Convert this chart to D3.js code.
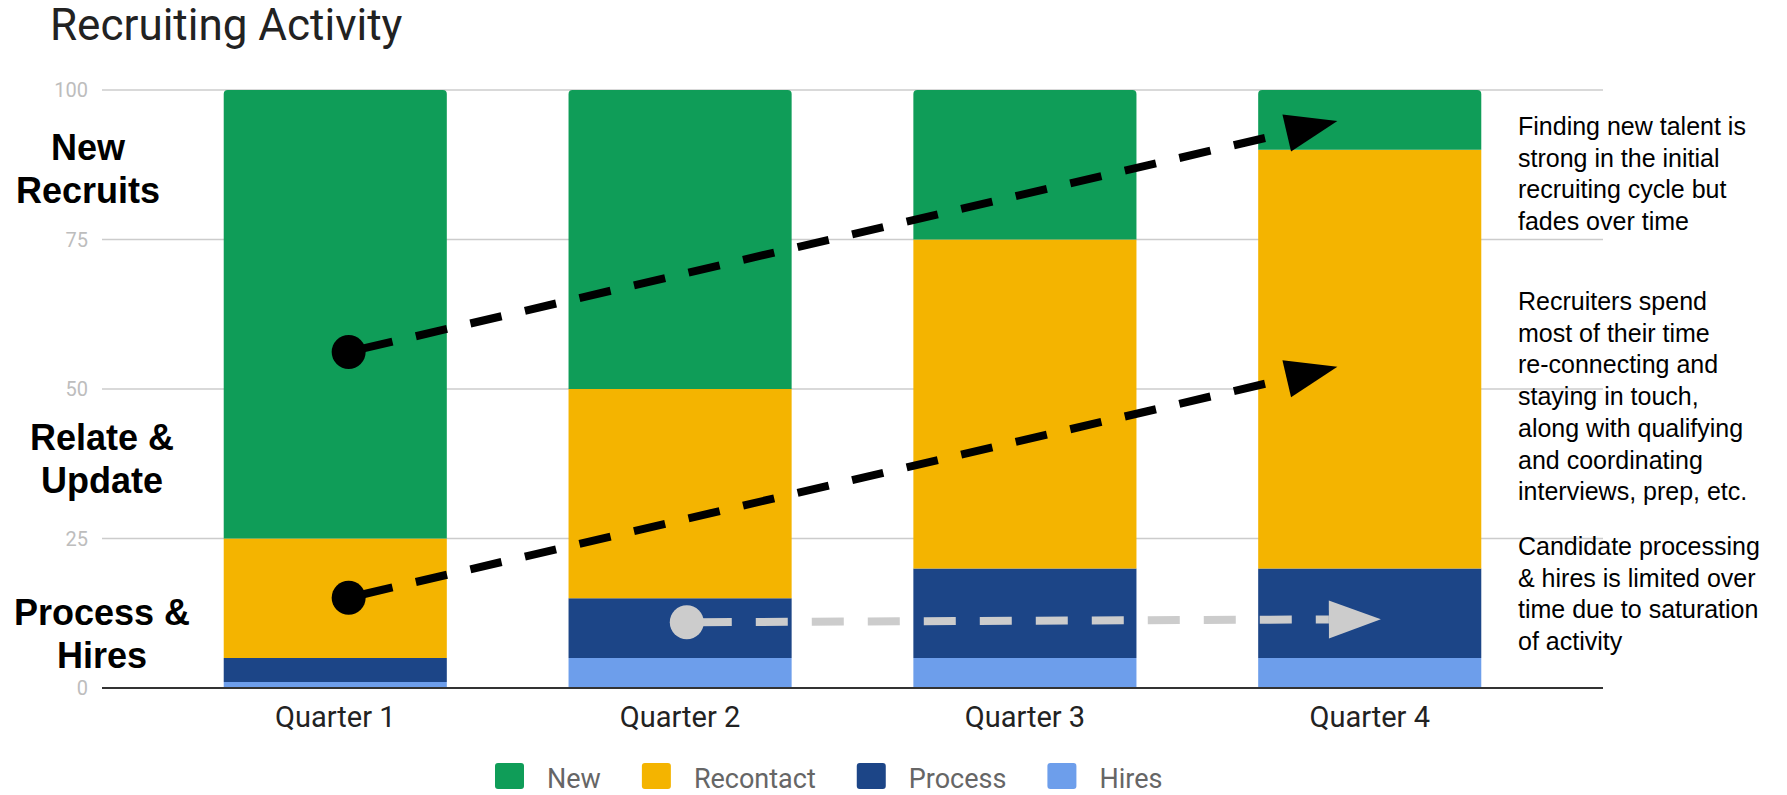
<!DOCTYPE html>
<meta charset="utf-8">
<head>
<script src="https://d3js.org/d3.v7.min.js"></script>
</head>
<style>
  body { margin: 0; background: #fff; }
  text { font-family: Roboto, "Liberation Sans", Arial, sans-serif; }
  .note { font-family: "Liberation Sans", Arial, sans-serif; font-size: 25px; fill: #000; }
  .side { font-family: "Liberation Sans", Arial, sans-serif; font-size: 36px; font-weight: bold; fill: #000; }
</style>
<body></body>
<script>
// chart data
var quarters = ["Quarter 1", "Quarter 2", "Quarter 3", "Quarter 4"];
var seriesNames = ["New", "Recontact", "Process", "Hires"];
var newVals = [75, 50, 25, 10];
var recontactVals = [20, 35, 55, 70];
var processVals = [4, 10, 15, 15];
var hiresVals = [1, 5, 5, 5];
var yTicks = [0, 25, 50, 75, 100];
var colors = { New: "#0f9d58", Recontact: "#f4b400", Process: "#1c4587", Hires: "#6d9eeb" };

// annotation arrows: [quarter index, fraction across bar, value]
var arrowStarts = [[0, 0.56, 56.2], [0, 0.56, 15.1], [1, 0.53, 11.0]];
var arrowEnds = [[3, 0.355, 94.8], [3, 0.355, 53.7], [3, 0.55, 11.5]];
var arrowColors = ["#000", "#000", "#cccccc"];

// left-hand group labels, value = baseline of first line
var sideLabels = [["New", "Recruits"], ["Relate &", "Update"], ["Process &", "Hires"]];
var sideValues = [88.3, 39.8, 10.5];
var sideCenters = [88, 102, 102];

var notes = [
  ["Finding new talent is", "strong in the initial", "recruiting cycle but", "fades over time"],
  ["Recruiters spend", "most of their time", "re-connecting and", "staying in touch,", "along with qualifying", "and coordinating", "interviews, prep, etc."],
  ["Candidate processing", "& hires is limited over", "time due to saturation", "of activity"]
];
var noteTops = [135, 310, 555];

var width = 1787, height = 795;
var plotL = 102, plotR = 1603, plotT = 90, plotB = 688;

var svg = d3.select("body").append("svg")
    .attr("width", width)
    .attr("height", height);

svg.append("rect").attr("width", width).attr("height", height).attr("fill", "#fff");

var x = d3.scaleBand().domain(quarters).range([plotL, plotR]).paddingInner(0.353).paddingOuter(0.353);
var y = d3.scaleLinear().domain([0, 100]).range([plotB, plotT]);

svg.append("text")
    .attr("x", 50).attr("y", 40)
    .style("font-size", "44px").style("fill", "#222")
    .text("Recruiting Activity");

// gridlines + tick labels
var grid = svg.append("g");
grid.selectAll("line").data(yTicks.filter(function(d) { return d > 0; })).enter().append("line")
    .attr("x1", plotL).attr("x2", plotR)
    .attr("y1", function(d) { return y(d); }).attr("y2", function(d) { return y(d); })
    .attr("stroke", "#cccccc").attr("stroke-width", 1.5);
grid.selectAll("text").data(yTicks).enter().append("text")
    .attr("x", 88).attr("y", function(d) { return y(d); })
    .attr("dy", "0.36em").attr("text-anchor", "end")
    .style("font-size", "20px").style("fill", "#bdbdbd")
    .text(function(d) { return d; });

// stacked bars
var rows = quarters.map(function(q, i) {
  return { q: q, New: newVals[i], Recontact: recontactVals[i], Process: processVals[i], Hires: hiresVals[i] };
});
var stack = d3.stack().keys(["Hires", "Process", "Recontact", "New"])(rows);

function topRounded(x0, y0, w, h, r) {
  return "M" + x0 + "," + (y0 + h) + "V" + (y0 + r) + "Q" + x0 + "," + y0 + " " + (x0 + r) + "," + y0 +
    "H" + (x0 + w - r) + "Q" + (x0 + w) + "," + y0 + " " + (x0 + w) + "," + (y0 + r) + "V" + (y0 + h) + "Z";
}

stack.forEach(function(layer) {
  var isTop = layer.key === "New";
  svg.append("g").selectAll("path").data(layer).enter().append("path")
      .attr("fill", colors[layer.key])
      .attr("d", function(d) {
        var x0 = x(d.data.q), w = x.bandwidth(), y0 = y(d[1]), h = y(d[0]) - y(d[1]);
        if (isTop) return topRounded(x0, y0, w, h, 4);
        return "M" + x0 + "," + y0 + "h" + w + "v" + h + "h" + (-w) + "Z";
      });
});

// baseline
svg.append("line")
    .attr("x1", plotL).attr("x2", plotR).attr("y1", y(0)).attr("y2", y(0))
    .attr("stroke", "#333").attr("stroke-width", 2);

// x labels
svg.append("g").selectAll("text").data(quarters).enter().append("text")
    .attr("x", function(d) { return x(d) + x.bandwidth() / 2; })
    .attr("y", 727).attr("text-anchor", "middle")
    .style("font-size", "29px").style("fill", "#222")
    .text(function(d) { return d; });

// arrows
function pt(p) { return [x(quarters[p[0]]) + p[1] * x.bandwidth(), y(p[2])]; }
arrowStarts.forEach(function(s, i) {
  var a = pt(s), b = pt(arrowEnds[i]), c = arrowColors[i];
  var ang = Math.atan2(b[1] - a[1], b[0] - a[0]);
  var headLen = 52, half = 19;
  var base = [b[0] - headLen * Math.cos(ang), b[1] - headLen * Math.sin(ang)];
  var g = svg.append("g");
  g.append("line")
      .attr("x1", a[0]).attr("y1", a[1]).attr("x2", base[0]).attr("y2", base[1])
      .attr("stroke", c).attr("stroke-width", 8)
      .attr("stroke-dasharray", "32,24").attr("stroke-dashoffset", 43);
  g.append("polygon")
      .attr("points", [b,
        [base[0] - half * Math.sin(ang), base[1] + half * Math.cos(ang)],
        [base[0] + half * Math.sin(ang), base[1] - half * Math.cos(ang)]].map(function(p) { return p.join(","); }).join(" "))
      .attr("fill", c);
  g.append("circle").attr("cx", a[0]).attr("cy", a[1]).attr("r", 17).attr("fill", c);
});

// side labels
sideLabels.forEach(function(lines, i) {
  var t = svg.append("text").attr("class", "side").attr("text-anchor", "middle");
  lines.forEach(function(l, j) {
    t.append("tspan").attr("x", sideCenters[i]).attr("y", y(sideValues[i]) + j * 43).text(l);
  });
});

// notes
notes.forEach(function(lines, i) {
  var t = svg.append("text").attr("class", "note");
  lines.forEach(function(l, j) {
    t.append("tspan").attr("x", 1518).attr("y", noteTops[i] + j * 31.7).text(l);
  });
});

// legend
var legend = svg.append("g").attr("transform", "translate(495,0)");
var lx = 0;
seriesNames.forEach(function(name) {
  legend.append("rect").attr("x", lx).attr("y", 763).attr("width", 29).attr("height", 26).attr("rx", 3)
      .attr("fill", colors[name]);
  var t = legend.append("text").attr("x", lx + 52).attr("y", 788)
      .style("font-size", "27px").style("fill", "#666").text(name);
  lx += 52 + t.node().getComputedTextLength() + 41;
});
</script>
